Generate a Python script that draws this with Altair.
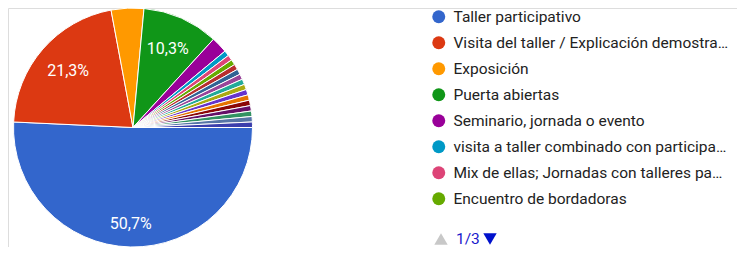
import math
import altair as alt
import pandas as pd

# ---- data ----
categories = [
    "Taller participativo",
    "Visita del taller / Explicación demostra…",
    "Exposición",
    "Puerta abiertas",
    "Seminario, jornada o evento",
    "visita a taller combinado con participa…",
    "Mix de ellas; Jornadas con talleres pa…",
    "Encuentro de bordadoras",
    "Respuesta 9", "Respuesta 10", "Respuesta 11", "Respuesta 12",
    "Respuesta 13", "Respuesta 14", "Respuesta 15", "Respuesta 16",
    "Respuesta 17", "Respuesta 18", "Respuesta 19", "Respuesta 20",
]
counts = [69, 29, 6, 14, 3, 1, 1, 1, 1, 1, 1, 1, 1, 1, 1, 1, 1, 1, 1, 1]
colors = [
    "#3366cc", "#dc3912", "#ff9900", "#109618", "#990099", "#0099c6",
    "#dd4477", "#66aa00", "#b82e2e", "#316395", "#994499", "#22aa99",
    "#aaaa11", "#6633cc", "#e67300", "#8b0707", "#651067", "#329262",
    "#5574a6", "#3b3eac",
]
pager_text = ["1/3"]

df = pd.DataFrame({"cat": categories, "count": counts, "idx": list(range(len(categories)))})

FONT = "Roboto"
CX, CY, R = 125, 119.5, 119.5

theta = alt.Theta("count:Q", stack=True,
                  scale=alt.Scale(range=[math.pi / 2, math.pi / 2 + 2 * math.pi]))
order = alt.Order("idx:Q", sort="ascending")

base = alt.Chart(df).transform_joinaggregate(total="sum(count)").transform_calculate(
    pct="datum.count / datum.total * 100",
    lab="replace(format(datum.count / datum.total * 100, '.1f'), '.', ',') + '%'",
)

arcs = base.mark_arc(outerRadius=R, stroke="white", strokeWidth=1).encode(
    theta=theta,
    order=order,
    x=alt.value(CX),
    y=alt.value(CY),
    color=alt.Color(
        "cat:N",
        scale=alt.Scale(domain=categories, range=colors),
        sort=categories,
        legend=alt.Legend(
            values=categories[:8],
            orient="none",
            legendX=423,
            legendY=1,
            title=None,
            symbolType="circle",
            symbolSize=169,
            symbolStrokeWidth=0,
            symbolOpacity=1,
            labelFont=FONT,
            labelFontSize=15.5,
            labelColor="#222222",
            labelLimit=400,
            labelOffset=7,
            rowPadding=9,
            padding=0,
        ),
    ),
)

big_lab = base.transform_calculate(
    t="datum.pct > 40 ? datum.lab : ''"
).mark_text(radius=97, fontSize=16, font=FONT, color="white").encode(
    theta=theta, order=order, x=alt.value(CX), y=alt.value(CY), text="t:N"
)
mid_lab = base.transform_calculate(
    t="(datum.pct >= 10 && datum.pct <= 40) ? datum.lab : ''"
).mark_text(radius=86, fontSize=16, font=FONT, color="white").encode(
    theta=theta, order=order, x=alt.value(CX), y=alt.value(CY), text="t:N"
)

pager_df = pd.DataFrame({"t": pager_text})
up_tri = alt.Chart(pager_df).mark_point(shape="triangle-up", filled=True, size=180,
                                        color="#c8c8c8", opacity=1).encode(
    x=alt.value(433), y=alt.value(231))
down_tri = alt.Chart(pager_df).mark_point(shape="triangle-down", filled=True, size=180,
                                          color="#0011cc", opacity=1).encode(
    x=alt.value(482), y=alt.value(231))
pager = alt.Chart(pager_df).mark_text(align="left", baseline="middle", fontSize=15.5,
                                      font=FONT, color="#1a1acc").encode(
    x=alt.value(448), y=alt.value(231), text="t:N")

chart = alt.layer(arcs, big_lab, mid_lab, up_tri, down_tri, pager).properties(
    width=729, height=239, padding=0, autosize=alt.AutoSizeParams(type="none")
).configure_view(stroke=None).configure(background="white")

chart.save("out.html", embed_options={"renderer": "svg", "actions": False})
